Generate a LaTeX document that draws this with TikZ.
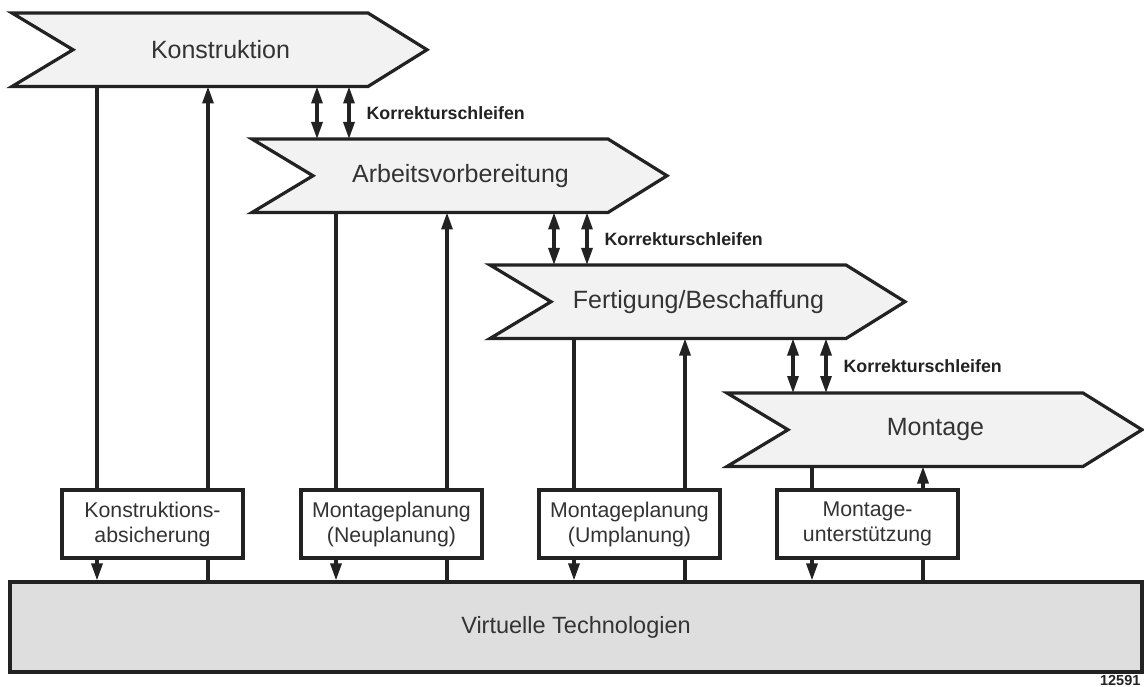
\documentclass[tikz,border=0pt]{standalone}
\usepackage{fontspec}
\setmainfont{Liberation Sans}
\usetikzlibrary{arrows.meta,calc}
\definecolor{ink}{HTML}{222222}
\definecolor{txt}{HTML}{333333}
\definecolor{chevfill}{HTML}{F2F2F2}
\definecolor{barfill}{HTML}{DEDEDE}

% chevron-shaped process phase: name, left x, top y, label
\newcommand\phasechev[4]{%
  \draw[phase] (#2,#3) -- ++(356,0) -- ++(59,36.75) -- ++(-59,36.75)
    -- ++(-356,0) -- ++(61,-36.75) -- cycle;
  \node[phaselabel] (#1) at (#2+208.5,#3+36.75) {#4};
  \coordinate (#1-top) at (#2,#3);
  \coordinate (#1-bot) at (#2,#3+73.5);
}

\begin{document}
\begin{tikzpicture}[x=1pt,y=-1pt,line width=3.2pt,
  phase/.style={draw=ink,fill=chevfill,line join=miter},
  phaselabel/.style={text=txt,inner sep=0pt,font=\fontsize{25}{30}\selectfont},
  toolbox/.style={draw=ink,fill=white,minimum width=181pt,minimum height=68pt,
    align=center,text=txt,inner sep=0pt,font=\fontsize{21.3}{25}\selectfont},
  base/.style={draw=ink,fill=barfill,minimum width=1132pt,minimum height=90pt,
    text=txt,font=\fontsize{23.5}{28}\selectfont},
  link/.style={draw=ink},
  tip/.style={-{Triangle[length=17pt,width=11pt]}},
  loop/.style={{Triangle[length=17pt,width=11pt]}-{Triangle[length=17pt,width=11pt]}},
  looplabel/.style={anchor=west,text=ink,inner sep=0pt,
    font=\bfseries\fontsize{17.8}{20}\selectfont},
  refno/.style={anchor=base east,text=ink,inner sep=0pt,
    font=\bfseries\fontsize{14.5}{16}\selectfont}
]
\useasboundingbox (0,0) rectangle (1144,687);

% process phases
\phasechev{k}{12}{13}{Konstruktion}
\phasechev{a}{252}{139}{Arbeitsvorbereitung}
\phasechev{f}{490}{265}{Fertigung/Beschaffung}
\phasechev{m}{727}{393}{Montage}

% supporting applications and the common base
\node[base] (vt) at (576,627) {Virtuelle Technologien};
\node[toolbox] (b1) at (152.5,524) {Konstruktions-\\absicherung};
\node[toolbox] (b2) at (391.5,524) {Montageplanung\\(Neuplanung)};
\node[toolbox] (b3) at (629.5,524) {Montageplanung\\(Umplanung)};
\node[toolbox] (b4) at (867.5,524) {Montage-\\unterstützung};

% attachment points of the vertical links
\coordinate (k-dn) at (97,0);  \coordinate (k-up) at (208,0);
\coordinate (a-dn) at (336,0); \coordinate (a-up) at (447,0);
\coordinate (f-dn) at (574,0); \coordinate (f-up) at (685,0);
\coordinate (m-dn) at (812,0); \coordinate (m-up) at (923,0);

% phase -> application -> base, and back
\foreach \p/\b in {k/b1,a/b2,f/b3,m/b4}{
  \draw[link] (\p-bot -| \p-dn) -- (\b.north -| \p-dn);
  \draw[link,tip] (\b.south -| \p-dn) -- (vt.north -| \p-dn);
  \draw[link] (vt.north -| \p-up) -- (\b.south -| \p-up);
  \draw[link,tip] (\b.north -| \p-up) -- (\p-bot -| \p-up);
}

% correction loops between consecutive phases
\coordinate (l1a) at (317,0); \coordinate (l1b) at (349,0);
\coordinate (l2a) at (554,0); \coordinate (l2b) at (587,0);
\coordinate (l3a) at (793,0); \coordinate (l3b) at (826,0);
\foreach \u/\d/\n in {k/a/1,a/f/2,f/m/3}{
  \draw[link,loop] (\u-bot -| l\n a) -- (\d-top -| l\n a);
  \draw[link,loop] (\u-bot -| l\n b) -- (\d-top -| l\n b);
}
\coordinate (g1) at ($(k-bot)!0.5!(a-top)$);
\coordinate (g2) at ($(a-bot)!0.5!(f-top)$);
\coordinate (g3) at ($(f-bot)!0.5!(m-top)$);
\node[looplabel,xshift=16pt] (kl1) at (g1 -| l1b) {Korrekturschleifen};
\node[looplabel,xshift=16pt] (kl2) at (g2 -| l2b) {Korrekturschleifen};
\node[looplabel,xshift=16pt] (kl3) at (g3 -| l3b) {Korrekturschleifen};

\node[refno] (nr) at (1142,685) {12591};
\end{tikzpicture}
\end{document}
